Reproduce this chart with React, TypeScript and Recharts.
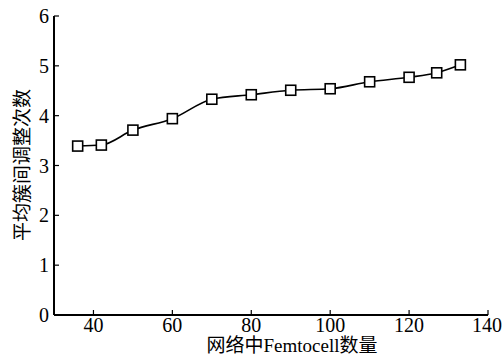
import { Line, LineChart, XAxis, YAxis } from "recharts";

const femtocells = [36, 42, 50, 60, 70, 80, 90, 100, 110, 120, 127, 133];
const adjustments = [3.39, 3.41, 3.71, 3.94, 4.33, 4.42, 4.51, 4.54, 4.68, 4.77, 4.86, 5.02];
const xTicks = [40, 60, 80, 100, 120, 140];
const yTicks = [0, 1, 2, 3, 4, 5, 6];

const xTitle = "网络中Femtocell数量";
const yTitle = "平均簇间调整次数";

const data = femtocells.map((n, i) => ({ n, v: adjustments[i] }));

const font = '"Liberation Serif", "Noto Sans CJK SC", serif';
const tickStyle = { fill: "#000", fontSize: 20, fontFamily: font } as const;

function SquareDot({ cx, cy }: { cx?: number; cy?: number }) {
  if (cx == null || cy == null) return null;
  return <rect x={cx - 5} y={cy - 5} width={10} height={10} fill="#fff" stroke="#000" strokeWidth={1.6} />;
}

// vertical title, centred on the plot height
function YTitle() {
  const cx = 22;
  const cy = 165;
  return (
    <text
      x={cx}
      y={cy}
      transform={`rotate(-90 ${cx} ${cy})`}
      textAnchor="middle"
      dominantBaseline="central"
      fontSize={19}
      fontFamily={font}
      fill="#000"
    >
      {yTitle}
    </text>
  );
}

export default function App() {
  return (
    <div style={{ position: "absolute", left: 0, top: 0, background: "#fff" }}>
      <LineChart width={502} height={357} data={data} margin={{ top: 16, right: 14, left: 0, bottom: 0 }}>
        <XAxis
          dataKey="n"
          type="number"
          domain={[30, 140]}
          ticks={xTicks}
          allowDataOverflow
          height={42}
          tick={tickStyle}
          tickSize={-5}
          tickMargin={8}
          tickLine={{ stroke: "#000", strokeWidth: 1.2 }}
          axisLine={{ stroke: "#000", strokeWidth: 2 }}
          label={{ value: xTitle, position: "insideBottom", offset: 5, dx: 21, fontSize: 19, fontFamily: font, fill: "#000" }}
        />
        <XAxis xAxisId="top" orientation="top" dataKey="n" type="number" domain={[30, 140]} height={0} tick={false} tickLine={false} axisLine={{ stroke: "#000", strokeWidth: 1.5 }} />
        <YAxis
          domain={[0, 6]}
          ticks={yTicks}
          width={54}
          tick={tickStyle}
          tickSize={-5}
          tickMargin={10}
          tickLine={{ stroke: "#000", strokeWidth: 1.2 }}
          axisLine={{ stroke: "#000", strokeWidth: 2 }}
          label={<YTitle />}
        />
        <YAxis yAxisId="right" orientation="right" domain={[0, 6]} width={0} tick={false} tickLine={false} axisLine={{ stroke: "#000", strokeWidth: 1.5 }} />
        <Line
          type="monotone"
          dataKey="v"
          stroke="#000"
          strokeWidth={1.6}
          dot={<SquareDot />}
          activeDot={false}
          isAnimationActive={false}
        />
      </LineChart>
    </div>
  );
}
